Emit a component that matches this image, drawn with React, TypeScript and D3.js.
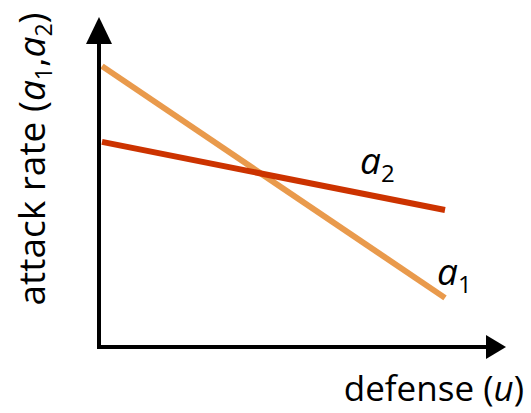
import React from "react";
import * as d3 from "d3";

const defense = [0, 1];
const a1 = [0.886, 0.155];
const a2 = [0.647, 0.432];
const seriesNames = ["a1", "a2"];

export default function App() {
  const W = 531, H = 413;
  const x = d3.scaleLinear().domain([0, 1]).range([102, 445]);
  const y = d3.scaleLinear().domain([0, 1]).range([347, 30]);
  const line = d3.line<[number, number]>().x(d => x(d[0])).y(d => y(d[1]));
  const p1 = defense.map((u, i) => [u, a1[i]] as [number, number]);
  const p2 = defense.map((u, i) => [u, a2[i]] as [number, number]);
  const font = "Open Sans, sans-serif";
  return (
    <svg width={W} height={H} style={{ position: "absolute", left: 0, top: 0 }}>
      <path d={line(p1) || ""} stroke="#E99A4C" strokeWidth={6} fill="none" />
      <path d={line(p2) || ""} stroke="#CC3300" strokeWidth={6} fill="none" />
      <line x1={99} y1={349} x2={99} y2={42} stroke="#000" strokeWidth={4} />
      <path d="M86,44 L99,17 L112,44 Z" fill="#000" />
      <line x1={97} y1={347} x2={488} y2={347} stroke="#000" strokeWidth={4} />
      <path d="M486,335 L506,347 L486,359 Z" fill="#000" />
      <text x={360} y={174} fontFamily={font} fontSize={37} fontStyle="italic">a<tspan fontSize={24} fontStyle="normal" dy={8}>2</tspan></text>
      <text x={437} y={285} fontFamily={font} fontSize={37} fontStyle="italic">a<tspan fontSize={24} fontStyle="normal" dy={8}>1</tspan></text>
      <text x={524} y={401} textAnchor="end" fontFamily={font} fontSize={35}>defense (<tspan fontStyle="italic">u</tspan>)</text>
      <text transform="translate(45,159) rotate(-90)" textAnchor="middle" fontFamily={font} fontSize={37}>attack rate (<tspan fontStyle="italic">a</tspan><tspan fontSize={23} dy={7}>1</tspan><tspan dy={-7}>,</tspan><tspan fontStyle="italic">a</tspan><tspan fontSize={23} dy={7}>2</tspan><tspan dy={-7}>)</tspan></text>
    </svg>
  );
}
